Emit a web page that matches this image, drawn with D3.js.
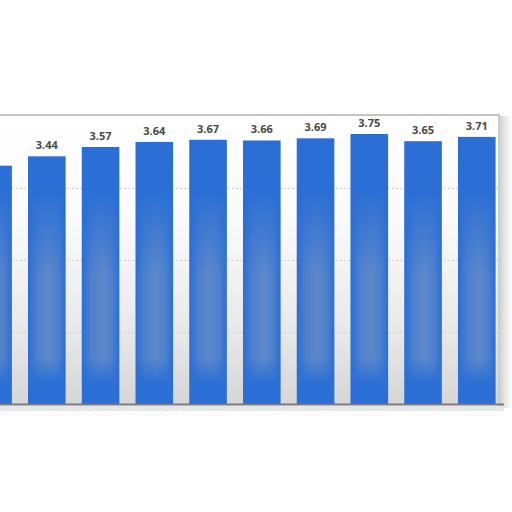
<!DOCTYPE html>
<html>
<head>
<meta charset="utf-8">
<script src="https://cdn.jsdelivr.net/npm/d3@7"></script>
<style>
  body { margin: 0; background: #fff; }
  svg { display: block; }
</style>
</head>
<body>
<svg id="chart" width="512" height="512"></svg>
<script>
// values; the first bar is cut off at the left edge
var categories = ["2011", "2012", "2013", "2014", "2015", "2016", "2017", "2018", "2019", "2020", "2021"];
var values = [3.31, 3.44, 3.57, 3.64, 3.67, 3.66, 3.69, 3.75, 3.65, 3.71, 3.70];
var valueLabels = ["3.31", "3.44", "3.57", "3.64", "3.67", "3.66", "3.69", "3.75", "3.65", "3.71", "3.70"];
var gridTicks = [1, 2, 3, 4];

var svg = d3.select("#chart");
var plotTop = 116, plotBottom = 404, plotRight = 498;

var x = d3.scaleBand()
  .domain(categories)
  .range([-33.8, 557.4])
  .paddingInner(0.3)
  .paddingOuter(0.15);
var y = d3.scaleLinear().domain([0, 4]).range([plotBottom, plotTop]);

var defs = svg.append("defs");
// plot background goes grey towards the bottom
var bg = defs.append("linearGradient").attr("id", "bg")
  .attr("x1", 0).attr("y1", 0).attr("x2", 0).attr("y2", 1);
bg.append("stop").attr("offset", "0%").attr("stop-color", "#ffffff");
bg.append("stop").attr("offset", "35%").attr("stop-color", "#fbfbfb");
bg.append("stop").attr("offset", "75%").attr("stop-color", "#e8e8e8");
bg.append("stop").attr("offset", "100%").attr("stop-color", "#d6d6d6");

// faded centre in the lower part of each bar
var haze = defs.append("linearGradient").attr("id", "haze")
  .attr("x1", 0).attr("y1", 0).attr("x2", 1).attr("y2", 0);
haze.append("stop").attr("offset", "0%").attr("stop-color", "#a3abb8").attr("stop-opacity", 0);
haze.append("stop").attr("offset", "25%").attr("stop-color", "#a3abb8").attr("stop-opacity", 0.3);
haze.append("stop").attr("offset", "55%").attr("stop-color", "#a3abb8").attr("stop-opacity", 0.42);
haze.append("stop").attr("offset", "80%").attr("stop-color", "#a3abb8").attr("stop-opacity", 0.3);
haze.append("stop").attr("offset", "100%").attr("stop-color", "#a3abb8").attr("stop-opacity", 0);

var fadeV = defs.append("linearGradient").attr("id", "fadeV")
  .attr("gradientUnits", "userSpaceOnUse")
  .attr("x1", 0).attr("y1", plotTop).attr("x2", 0).attr("y2", plotBottom);
fadeV.append("stop").attr("offset", "0%").attr("stop-color", "#000");
fadeV.append("stop").attr("offset", "25%").attr("stop-color", "#000");
fadeV.append("stop").attr("offset", "55%").attr("stop-color", "#fff");
fadeV.append("stop").attr("offset", "84%").attr("stop-color", "#fff");
fadeV.append("stop").attr("offset", "93%").attr("stop-color", "#000");
fadeV.append("stop").attr("offset", "100%").attr("stop-color", "#000");
defs.append("mask").attr("id", "fadeMask")
  .attr("maskUnits", "userSpaceOnUse")
  .attr("x", 0).attr("y", 0).attr("width", 512).attr("height", 512)
  .append("rect").attr("x", 0).attr("y", 0).attr("width", 512).attr("height", 512)
  .attr("fill", "url(#fadeV)");

var edge = defs.append("linearGradient").attr("id", "edge")
  .attr("x1", 0).attr("y1", 0).attr("x2", 1).attr("y2", 0);
edge.append("stop").attr("offset", "0%").attr("stop-color", "#c8c8c8");
edge.append("stop").attr("offset", "40%").attr("stop-color", "#e2e2e2");
edge.append("stop").attr("offset", "100%").attr("stop-color", "#ffffff");

defs.append("clipPath").attr("id", "plotClip")
  .append("rect").attr("x", 0).attr("y", 0).attr("width", plotRight).attr("height", 512);

// plot area
svg.append("rect")
  .attr("x", 0).attr("y", plotTop).attr("width", plotRight).attr("height", plotBottom - plotTop)
  .attr("fill", "url(#bg)");

// right side shading of the frame
svg.append("rect")
  .attr("x", plotRight).attr("y", plotTop).attr("width", 14).attr("height", plotBottom - plotTop + 4)
  .attr("fill", "url(#edge)");

// grid lines
svg.append("g").selectAll("line")
  .data(gridTicks.slice(0, 3))
  .join("line")
  .attr("x1", 0).attr("x2", plotRight)
  .attr("y1", function(d) { return Math.round(y(d)) + 0.5; })
  .attr("y2", function(d) { return Math.round(y(d)) + 0.5; })
  .attr("stroke", "#cfcfcf")
  .attr("stroke-dasharray", "2,2");

var plot = svg.append("g").attr("clip-path", "url(#plotClip)");

plot.selectAll("rect.bar")
  .data(values)
  .join("rect")
  .attr("class", "bar")
  .attr("x", function(d, i) { return x(categories[i]); })
  .attr("y", function(d) { return y(d); })
  .attr("width", x.bandwidth())
  .attr("height", function(d) { return y(0) - y(d); })
  .attr("fill", "#2b6fd6");

plot.append("g").attr("mask", "url(#fadeMask)")
  .selectAll("rect")
  .data(values)
  .join("rect")
  .attr("x", function(d, i) { return x(categories[i]); })
  .attr("y", function(d) { return y(d); })
  .attr("width", x.bandwidth())
  .attr("height", function(d) { return y(0) - y(d); })
  .attr("fill", "url(#haze)");

// only label bars whose centre is inside the visible frame
var shown = d3.range(values.length).filter(function(i) {
  var cx = x(categories[i]) + x.bandwidth() / 2;
  return cx > 12 && cx < plotRight - 12;
});

svg.append("g").selectAll("text")
  .data(shown)
  .join("text")
  .attr("x", function(i) { return x(categories[i]) + x.bandwidth() / 2; })
  .attr("y", function(i) { return y(values[i]) - 7; })
  .attr("text-anchor", "middle")
  .attr("font-family", "'Open Sans', 'DejaVu Sans', sans-serif")
  .attr("font-size", 11)
  .attr("font-weight", "bold")
  .attr("fill", "#484848")
  .text(function(i) { return valueLabels[i]; });

// top frame line
svg.append("line")
  .attr("x1", 0).attr("x2", plotRight + 2)
  .attr("y1", plotTop - 1).attr("y2", plotTop - 1)
  .attr("stroke", "#c4c4c4").attr("stroke-width", 2);

// baseline with soft shadow
svg.append("rect")
  .attr("x", 0).attr("y", plotBottom + 2).attr("width", plotRight + 6).attr("height", 5)
  .attr("fill", "#e6e6e6");
svg.append("line")
  .attr("x1", 0).attr("x2", plotRight + 6)
  .attr("y1", plotBottom + 0.5).attr("y2", plotBottom + 0.5)
  .attr("stroke", "#7a7a7a").attr("stroke-width", 2);
</script>
</body>
</html>
